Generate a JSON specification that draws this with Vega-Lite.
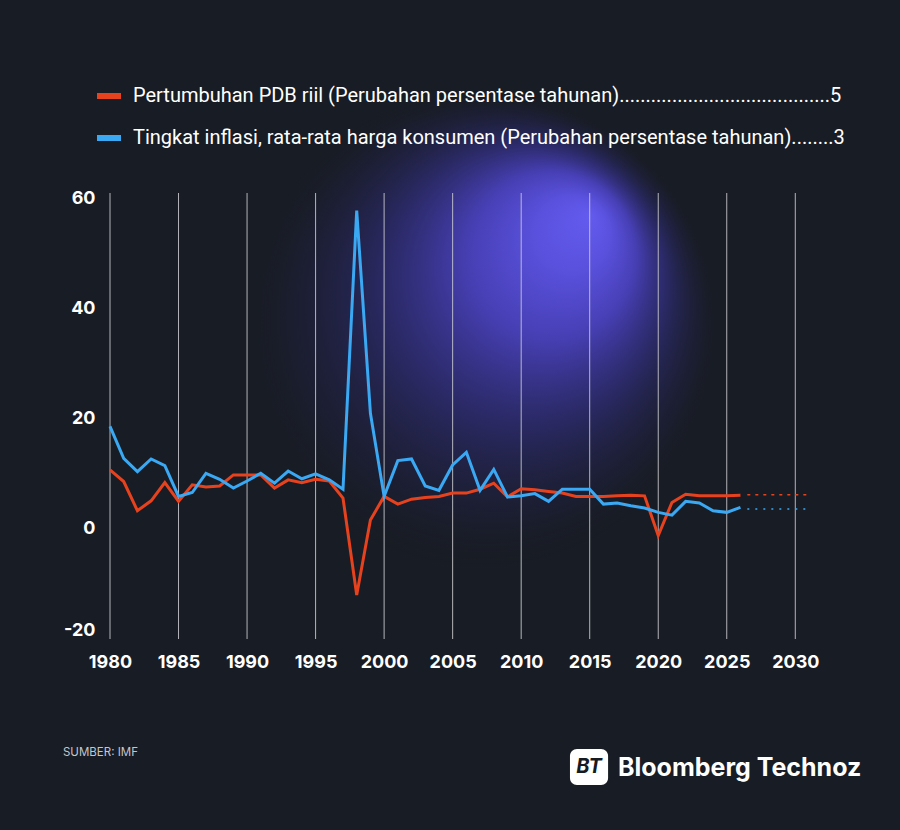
{
  "$schema": "https://vega.github.io/schema/vega-lite/v6.json",
  "width": 699,
  "height": 446,
  "autosize": {"type": "none"},
  "padding": {"left": 110, "top": 193, "right": 91, "bottom": 191},
  "background": "#181c24",
  "config": {
    "view": {"stroke": null},
    "axisX": {
      "grid": false, "ticks": false, "domain": false,
      "labelFont": "Inter", "labelFontWeight": "bold", "labelFontSize": 18,
      "labelColor": "#ffffff", "labelPadding": 14, "labelFlush": false
    },
    "axisY": {
      "grid": false, "ticks": false, "domain": false,
      "labelFont": "Inter", "labelFontWeight": "bold", "labelFontSize": 18,
      "labelColor": "#ffffff", "labelPadding": 15, "labelFlush": true
    }
  },
  "datasets": {
    "series": [
      {"year": 1980, "series": "gdp", "value": 10.7},
      {"year": 1981, "series": "gdp", "value": 8.6},
      {"year": 1982, "series": "gdp", "value": 3.3},
      {"year": 1983, "series": "gdp", "value": 5.1},
      {"year": 1984, "series": "gdp", "value": 8.4},
      {"year": 1985, "series": "gdp", "value": 5.0},
      {"year": 1986, "series": "gdp", "value": 8.0},
      {"year": 1987, "series": "gdp", "value": 7.6},
      {"year": 1988, "series": "gdp", "value": 7.8},
      {"year": 1989, "series": "gdp", "value": 9.8},
      {"year": 1990, "series": "gdp", "value": 9.8},
      {"year": 1991, "series": "gdp", "value": 9.8},
      {"year": 1992, "series": "gdp", "value": 7.4},
      {"year": 1993, "series": "gdp", "value": 8.9},
      {"year": 1994, "series": "gdp", "value": 8.4},
      {"year": 1995, "series": "gdp", "value": 9.0},
      {"year": 1996, "series": "gdp", "value": 8.7},
      {"year": 1997, "series": "gdp", "value": 5.6},
      {"year": 1998, "series": "gdp", "value": -12.0},
      {"year": 1999, "series": "gdp", "value": 1.6},
      {"year": 2000, "series": "gdp", "value": 5.9},
      {"year": 2001, "series": "gdp", "value": 4.5},
      {"year": 2002, "series": "gdp", "value": 5.4},
      {"year": 2003, "series": "gdp", "value": 5.7},
      {"year": 2004, "series": "gdp", "value": 5.9},
      {"year": 2005, "series": "gdp", "value": 6.5},
      {"year": 2006, "series": "gdp", "value": 6.5},
      {"year": 2007, "series": "gdp", "value": 7.2},
      {"year": 2008, "series": "gdp", "value": 8.3},
      {"year": 2009, "series": "gdp", "value": 5.8},
      {"year": 2010, "series": "gdp", "value": 7.3},
      {"year": 2011, "series": "gdp", "value": 7.1},
      {"year": 2012, "series": "gdp", "value": 6.8},
      {"year": 2013, "series": "gdp", "value": 6.5},
      {"year": 2014, "series": "gdp", "value": 5.9},
      {"year": 2015, "series": "gdp", "value": 5.9},
      {"year": 2016, "series": "gdp", "value": 5.9},
      {"year": 2017, "series": "gdp", "value": 6.0},
      {"year": 2018, "series": "gdp", "value": 6.1},
      {"year": 2019, "series": "gdp", "value": 6.0},
      {"year": 2020, "series": "gdp", "value": -1.2},
      {"year": 2021, "series": "gdp", "value": 4.8},
      {"year": 2022, "series": "gdp", "value": 6.3},
      {"year": 2023, "series": "gdp", "value": 6.0},
      {"year": 2024, "series": "gdp", "value": 6.0},
      {"year": 2025, "series": "gdp", "value": 6.0},
      {"year": 2026, "series": "gdp", "value": 6.1},
      {"year": 1980, "series": "inf", "value": 18.6},
      {"year": 1981, "series": "inf", "value": 12.8},
      {"year": 1982, "series": "inf", "value": 10.4},
      {"year": 1983, "series": "inf", "value": 12.7},
      {"year": 1984, "series": "inf", "value": 11.5},
      {"year": 1985, "series": "inf", "value": 5.9},
      {"year": 1986, "series": "inf", "value": 6.6},
      {"year": 1987, "series": "inf", "value": 10.1},
      {"year": 1988, "series": "inf", "value": 9.0},
      {"year": 1989, "series": "inf", "value": 7.4},
      {"year": 1990, "series": "inf", "value": 8.7},
      {"year": 1991, "series": "inf", "value": 10.1},
      {"year": 1992, "series": "inf", "value": 8.3},
      {"year": 1993, "series": "inf", "value": 10.5},
      {"year": 1994, "series": "inf", "value": 9.1},
      {"year": 1995, "series": "inf", "value": 10.0},
      {"year": 1996, "series": "inf", "value": 8.9},
      {"year": 1997, "series": "inf", "value": 7.2},
      {"year": 1998, "series": "inf", "value": 57.8},
      {"year": 1999, "series": "inf", "value": 21.0},
      {"year": 2000, "series": "inf", "value": 5.9},
      {"year": 2001, "series": "inf", "value": 12.4},
      {"year": 2002, "series": "inf", "value": 12.7},
      {"year": 2003, "series": "inf", "value": 7.8},
      {"year": 2004, "series": "inf", "value": 7.0},
      {"year": 2005, "series": "inf", "value": 11.6},
      {"year": 2006, "series": "inf", "value": 13.9},
      {"year": 2007, "series": "inf", "value": 7.0},
      {"year": 2008, "series": "inf", "value": 10.8},
      {"year": 2009, "series": "inf", "value": 5.8},
      {"year": 2010, "series": "inf", "value": 6.0},
      {"year": 2011, "series": "inf", "value": 6.4},
      {"year": 2012, "series": "inf", "value": 5.0},
      {"year": 2013, "series": "inf", "value": 7.2},
      {"year": 2014, "series": "inf", "value": 7.2},
      {"year": 2015, "series": "inf", "value": 7.2},
      {"year": 2016, "series": "inf", "value": 4.5},
      {"year": 2017, "series": "inf", "value": 4.7},
      {"year": 2018, "series": "inf", "value": 4.2},
      {"year": 2019, "series": "inf", "value": 3.8},
      {"year": 2020, "series": "inf", "value": 3.0},
      {"year": 2021, "series": "inf", "value": 2.5},
      {"year": 2022, "series": "inf", "value": 5.0},
      {"year": 2023, "series": "inf", "value": 4.7},
      {"year": 2024, "series": "inf", "value": 3.3},
      {"year": 2025, "series": "inf", "value": 3.0},
      {"year": 2026, "series": "inf", "value": 3.9}
    ],
    "projection": [
      {"year": 2026.5, "series": "gdp", "dash": "gdp-proj", "value": 6.2},
      {"year": 2031, "series": "gdp", "dash": "gdp-proj", "value": 6.2},
      {"year": 2026.5, "series": "inf", "dash": "inf-proj", "value": 3.6},
      {"year": 2031, "series": "inf", "dash": "inf-proj", "value": 3.6}
    ],
    "grid": [
      {"year": 1980}, {"year": 1985}, {"year": 1990}, {"year": 1995},
      {"year": 2000}, {"year": 2005}, {"year": 2010}, {"year": 2015},
      {"year": 2020}, {"year": 2025}, {"year": 2030}
    ]
  },
  "layer": [
    {
      "data": {"values": [{}]},
      "mark": {
        "type": "rect",
        "fill": {
          "gradient": "radial",
          "x1": 0.73, "y1": 0.26, "r1": 0,
          "x2": 0.5, "y2": 0.5, "r2": 0.5,
          "stops": [
            {"offset": 0, "color": "#635bee"},
            {"offset": 0.15, "color": "#5a51de"},
            {"offset": 0.35, "color": "#463fb3"},
            {"offset": 0.6, "color": "rgba(52,48,135,0.62)"},
            {"offset": 0.85, "color": "rgba(36,36,82,0.25)"},
            {"offset": 1, "color": "rgba(24,28,36,0)"}
          ]
        }
      },
      "encoding": {
        "x": {"datum": 1989.49, "type": "quantitative", "scale": {"domain": [1980, 2031], "nice": false, "zero": false}},
        "x2": {"datum": 2024.51},
        "y": {"datum": 79.71, "type": "quantitative", "scale": {"domain": [-20, 61], "nice": false, "zero": false}},
        "y2": {"datum": -7.47}
      }
    },
    {
      "data": {"name": "grid"},
      "mark": {"type": "rule", "color": "#cfd0d4", "strokeWidth": 1, "opacity": 0.85},
      "encoding": {
        "x": {
          "field": "year", "type": "quantitative",
          "axis": {"title": null, "values": [1980, 1985, 1990, 1995, 2000, 2005, 2010, 2015, 2020, 2025, 2030], "format": "d"}
        },
        "y": {"datum": -20, "type": "quantitative"},
        "y2": {"datum": 61}
      }
    },
    {
      "data": {"name": "series"},
      "mark": {"type": "line", "strokeWidth": 3, "strokeJoin": "miter"},
      "encoding": {
        "x": {
          "field": "year", "type": "quantitative",
          "axis": {"title": null, "values": [1980, 1985, 1990, 1995, 2000, 2005, 2010, 2015, 2020, 2025, 2030], "format": "d"}
        },
        "y": {
          "field": "value", "type": "quantitative",
          "axis": {"title": null, "values": [-20, 0, 20, 40, 60], "labelExpr": "'' + datum.value"}
        },
        "color": {
          "field": "series",
          "type": "nominal",
          "scale": {"domain": ["gdp", "inf"], "range": ["#e6421e", "#3aa8f2"]},
          "legend": {
            "title": null,
            "orient": "none",
            "legendX": -16,
            "legendY": -112,
            "direction": "vertical",
            "padding": 0,
            "symbolType": "stroke",
            "symbolSize": 576,
            "symbolStrokeWidth": 6,
            "labelFont": "Roboto",
            "labelFontSize": 20,
            "labelColor": "#ffffff",
            "labelOffset": 9,
            "labelLimit": 900,
            "rowPadding": 15,
            "labelExpr": "datum.value == 'gdp' ? 'Pertumbuhan PDB riil (Perubahan persentase tahunan)........................................5' : 'Tingkat inflasi, rata-rata harga konsumen (Perubahan persentase tahunan)........3'"
          }
        }
      }
    },
    {
      "data": {"name": "projection"},
      "mark": {"type": "line", "strokeWidth": 1.5},
      "encoding": {
        "x": {"field": "year", "type": "quantitative"},
        "y": {"field": "value", "type": "quantitative"},
        "color": {"field": "series", "type": "nominal"},
        "strokeDash": {
          "field": "dash",
          "type": "nominal",
          "scale": {"domain": ["gdp-proj", "inf-proj"], "range": [[3, 5], [2, 6]]},
          "legend": null
        }
      }
    },
    {
      "data": {"values": [{}]},
      "mark": {"type": "rect", "fill": "#ffffff", "cornerRadius": 7},
      "encoding": {
        "x": {"datum": 2013.56, "type": "quantitative"},
        "x2": {"datum": 2016.34},
        "y": {"datum": -40, "type": "quantitative"},
        "y2": {"datum": -46.5}
      }
    },
    {
      "data": {"values": [{}]},
      "mark": {"type": "text", "text": "BT", "font": "Inter", "fontWeight": "bold", "fontStyle": "italic", "fontSize": 20, "fill": "#161a22", "align": "center", "baseline": "middle"},
      "encoding": {
        "x": {"datum": 2014.95, "type": "quantitative"},
        "y": {"datum": -43.3, "type": "quantitative"}
      }
    },
    {
      "data": {"values": [{}]},
      "mark": {"type": "text", "text": "Bloomberg Technoz", "font": "Inter", "fontWeight": "bold", "fontSize": 25, "fill": "#ffffff", "align": "left", "baseline": "alphabetic"},
      "encoding": {
        "x": {"datum": 2017.06, "type": "quantitative"},
        "y": {"datum": -44.9, "type": "quantitative"}
      }
    },
    {
      "data": {"values": [{}]},
      "mark": {"type": "text", "text": "SUMBER: IMF", "font": "Inter", "fontSize": 11.5, "fill": "#c4c6cc", "align": "left", "baseline": "middle"},
      "encoding": {
        "x": {"datum": 1976.57, "type": "quantitative"},
        "y": {"datum": -40.7, "type": "quantitative"}
      }
    }
  ]
}
